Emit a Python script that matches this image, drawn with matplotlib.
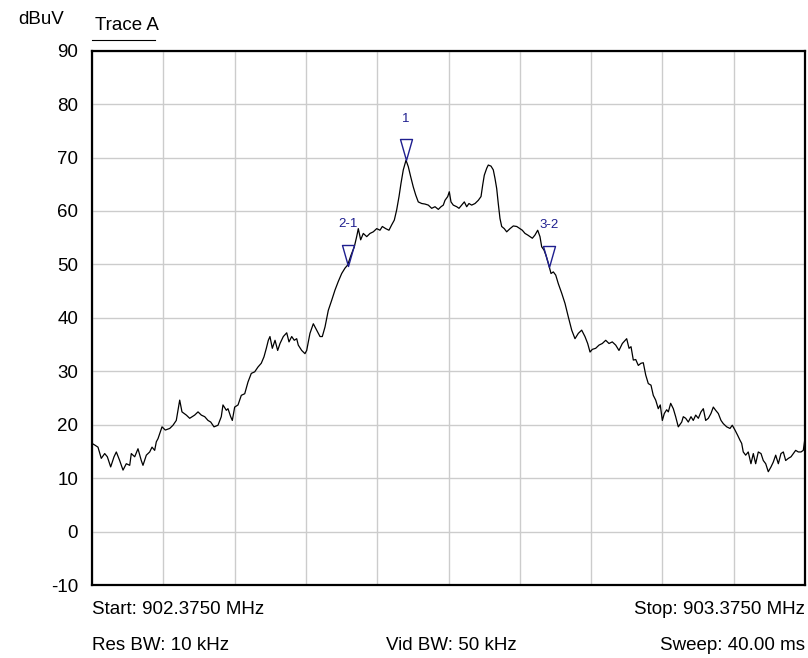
import matplotlib
matplotlib.use("Agg")
import matplotlib.pyplot as plt
import numpy as np
from matplotlib.path import Path

plt.rcParams['font.family'] = ['Liberation Sans', 'DejaVu Sans']

# ---- data ----
start_mhz = 902.375
stop_mhz = 903.375
# frequency offsets from start (kHz)
offset_khz = [
    0, 3.8, 8.4, 13.0, 17.8, 21.5, 26.2, 30.9, 34.1, 38.8, 43.5, 48.1, 52.9, 55.1, 59.9,
    64.5, 69.1, 71.5, 76.2, 80.9, 84.2, 87.9, 90.2, 92.6, 98.2, 102.8, 109.0, 113.6, 118.2,
    123.0, 126.2, 132.3, 137.0, 144.0, 148.7, 153.3, 158.1, 162.7, 166.5, 171.1, 176.7,
    181.3, 183.7, 188.4, 190.7, 194.5, 196.8, 200.1, 204.8, 209.4, 214.2, 218.8, 223.4,
    228.2, 232.8, 237.4, 241.2, 244.5, 247.3, 249.6, 252.9, 256.7, 260.4, 263.7, 268.3,
    273.1, 276.3, 280.1, 283.7, 287.1, 289.3, 294.1, 298.7, 301.1, 305.7, 310.4, 315.1,
    319.8, 323.0, 326.8, 331.4, 336.2, 340.8, 345.4, 350.2, 354.8, 358.6, 363.2, 367.9,
    371.2, 373.5, 376.8, 380.5, 385.3, 389.9, 394.5, 399.3, 403.9, 407.2, 411.9, 416.5,
    420.3, 424.0, 427.3, 430.6, 433.4, 436.6, 440.4, 443.6, 447.0, 450.6, 454.0, 457.6,
    462.4, 467.0, 471.7, 476.4, 481.1, 485.7, 489.5, 492.7, 495.1, 498.9, 501.1, 503.5,
    506.7, 511.5, 514.7, 518.5, 522.2, 525.5, 528.7, 532.5, 537.2, 541.8, 545.6, 548.0,
    550.2, 553.6, 555.8, 559.6, 562.8, 565.2, 567.6, 569.8, 572.2, 574.6, 578.2, 581.6,
    586.3, 590.9, 595.7, 600.3, 603.5, 607.3, 611.1, 614.3, 617.6, 621.3, 625.1, 628.3,
    630.7, 633.9, 636.7, 640.0, 643.8, 647.0, 650.4, 654.0, 658.8, 663.4, 668.0, 672.8,
    677.4, 682.1, 686.8, 691.4, 695.2, 698.5, 701.7, 706.4, 711.1, 715.7, 720.5, 725.1,
    729.7, 734.5, 739.1, 743.8, 749.9, 753.2, 756.0, 759.2, 762.6, 766.2, 770.0, 773.2,
    776.6, 780.2, 784.0, 787.2, 790.6, 794.2, 797.0, 799.9, 802.7, 806.0, 808.3, 811.6,
    815.3, 818.6, 822.3, 827.1, 829.3, 832.7, 836.3, 840.1, 843.3, 846.7, 850.4, 854.1,
    857.4, 860.7, 864.4, 868.1, 871.4, 874.7, 878.4, 882.2, 885.4, 890.2, 894.8, 898.0,
    901.8, 905.6, 908.8, 911.2, 913.4, 916.8, 920.4, 924.2, 927.5, 930.8, 934.5, 938.3,
    941.5, 944.9, 948.5, 952.3, 955.5, 958.9, 962.6, 966.3, 969.6, 972.9, 976.6, 980.4,
    983.6, 986.9, 990.6, 994.4, 997.6, 1000.0,
]
level_dbuv = [
    16.5, 16.2, 15.8, 13.7, 14.6, 14.0, 12.1, 14.0, 14.9, 13.3, 11.5, 12.7, 12.4, 14.6, 14.0,
    15.5, 13.3, 12.4, 14.3, 14.9, 15.8, 15.2, 16.8, 17.4, 19.6, 19.0, 19.3, 19.9, 20.8,
    24.6, 22.4, 21.8, 21.2, 21.8, 22.4, 21.8, 21.5, 20.8, 20.5, 19.6, 19.9,
    21.5, 23.7, 22.7, 23.0, 21.5, 20.8, 23.3, 23.7, 25.5, 25.8, 28.0, 29.6,
    29.9, 30.8, 31.5, 32.7, 34.3, 35.8, 36.5, 34.3, 35.8, 33.9, 35.2, 36.5,
    37.2, 35.5, 36.5, 35.8, 36.1, 34.9, 33.9, 33.3, 33.9, 37.1, 38.9, 37.7,
    36.5, 36.5, 38.3, 41.4, 43.3, 45.2, 46.8, 48.3, 49.3, 49.9, 51.7, 53.3,
    55.2, 56.7, 54.6, 55.8, 55.2, 55.8, 56.1, 56.7, 56.4, 57.1, 56.7, 56.4,
    57.4, 58.3, 60.2, 62.7, 65.2, 67.7, 69.5, 68.3, 66.4, 64.5, 63.0, 61.7,
    61.4, 61.3, 61.1, 60.5, 60.8, 60.3, 60.8, 61.1, 62.0, 62.7, 63.6, 61.7,
    61.1, 60.8, 60.5, 61.1, 61.7, 60.8, 61.4, 61.1, 61.4, 62.0, 62.7, 64.9,
    66.7, 68.0, 68.6, 68.4, 67.7, 66.1, 64.2, 61.4, 58.6, 57.1, 56.7, 56.1,
    56.7, 57.2, 57.1, 56.7, 56.4, 55.8, 55.5, 55.2, 54.9, 55.5, 56.4, 55.2,
    53.3, 52.7, 51.7, 50.2, 48.3, 48.6, 48.0, 46.4, 44.6, 42.7, 40.2, 37.7,
    36.1, 37.1, 37.7, 36.5, 35.2, 33.6, 34.1, 34.3, 34.9, 35.2, 35.8, 35.2,
    35.5, 34.9, 33.9, 35.2, 36.1, 34.3, 34.6, 32.1, 32.2, 31.1, 31.5, 31.6,
    29.3, 27.7, 27.4, 25.5, 24.6, 23.0, 23.7, 20.8, 22.1, 22.8, 22.4, 24.0,
    23.0, 21.5, 19.6, 20.5, 21.5, 21.2, 20.5, 21.5, 20.8, 21.8, 21.2, 22.4,
    23.0, 20.8, 21.2, 22.1, 23.3, 22.7, 22.1, 20.8, 20.2, 19.6, 19.3, 19.9,
    19.0, 18.0, 17.1, 16.5, 14.9, 14.3, 14.9, 12.7, 14.6, 12.7, 14.9, 14.6,
    13.3, 12.7, 11.2, 12.1, 13.0, 14.3, 12.7, 14.6, 14.9, 13.3, 13.7, 14.0,
    14.6, 15.2, 14.9, 14.9, 15.2, 17.5,
]

marker_labels = ["1", "2-1", "3-2"]
marker_offset_khz = [440.4, 358.6, 640.8]
marker_level = [69.5, 49.7, 49.5]

y_ticks = [-10, 0, 10, 20, 30, 40, 50, 60, 70, 80, 90]

freq = start_mhz + np.array(offset_khz) / 1000.0

# ---- figure ----
W, H, DPI = 808, 658, 100
FS = 13.5
fig = plt.figure(figsize=(W / DPI, H / DPI), dpi=DPI)
L, R, T, B = 92, 805, 50.7, 585
ax = fig.add_axes([L / W, 1 - B / H, (R - L) / W, (B - T) / H])

ax.plot(freq, level_dbuv, color="black", lw=0.9, zorder=3)

ax.set_xlim(start_mhz, stop_mhz)
ax.set_ylim(-10, 90)
ax.set_yticks(y_ticks)
ax.set_yticklabels([str(v) for v in y_ticks], fontsize=FS)
ax.set_xticks(np.linspace(start_mhz, stop_mhz, 11))
ax.set_xticklabels([])
ax.tick_params(axis="both", length=0, pad=10)
ax.grid(True, color="#cccccc", lw=1.0, zorder=0)
ax.set_axisbelow(True)
for s in ax.spines.values():
    s.set_linewidth(1.6)
    s.set_color("black")

# markers: downward triangle with tip at the point
tri = Path([(-6, 21), (6, 21), (0, 0), (-6, 21)],
           [Path.MOVETO, Path.LINETO, Path.LINETO, Path.CLOSEPOLY])
mcol = "#1f1f8f"
ms = 21 * 2 * 72 / DPI
for lab, off, lev in zip(marker_labels, marker_offset_khz, marker_level):
    f = start_mhz + off / 1000.0
    ax.plot([f], [lev], marker=tri, markersize=ms, markerfacecolor="none",
            markeredgecolor=mcol, markeredgewidth=1.0, linestyle="none", zorder=4,
            clip_on=False)
    ax.annotate(lab, (f, lev), xytext=(0, 30), textcoords="offset points",
                ha="center", va="center", fontsize=9.5, color=mcol, zorder=5)

# header texts
fig.text(18 / W, 1 - 20 / H, "dBuV", fontsize=FS, ha="left", va="center")
fig.text(95 / W, 1 - 25 / H, "Trace A", fontsize=FS, ha="left", va="center")
fig.add_artist(plt.Line2D([92 / W, 155 / W], [1 - 40 / H, 1 - 40 / H],
                          color="black", lw=0.8))

# footer texts
fig.text(92 / W, 1 - 610 / H, "Start: 902.3750 MHz", fontsize=FS, ha="left", va="center")
fig.text(805 / W, 1 - 610 / H, "Stop: 903.3750 MHz", fontsize=FS, ha="right", va="center")
fig.text(92 / W, 1 - 645 / H, "Res BW: 10 kHz", fontsize=FS, ha="left", va="center")
fig.text(451 / W, 1 - 645 / H, "Vid BW: 50 kHz", fontsize=FS, ha="center", va="center")
fig.text(805 / W, 1 - 645 / H, "Sweep: 40.00 ms", fontsize=FS, ha="right", va="center")

fig.savefig("out.png", dpi=DPI)
